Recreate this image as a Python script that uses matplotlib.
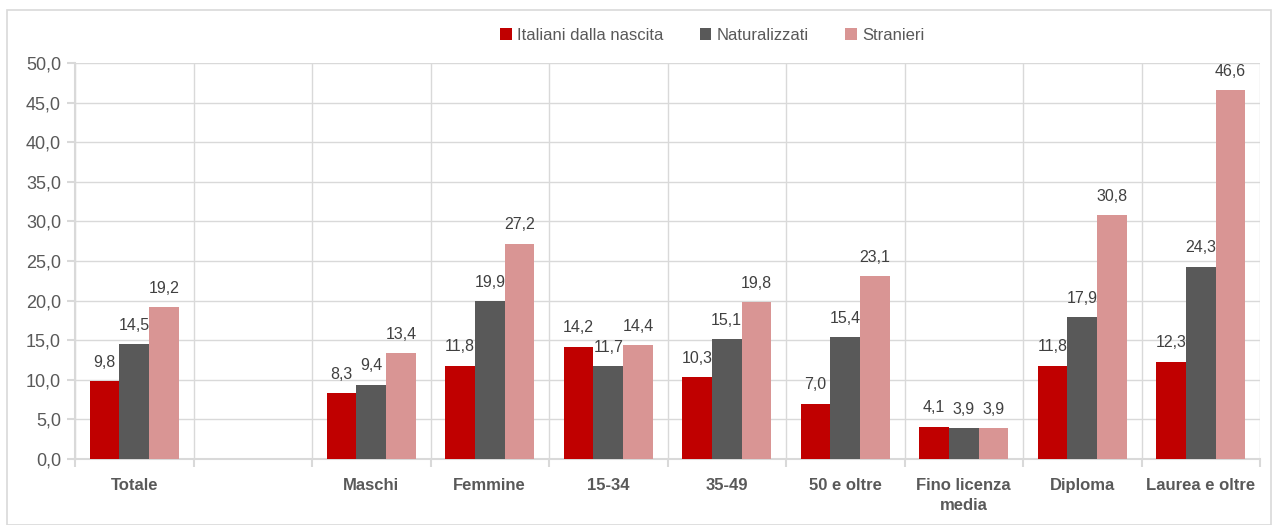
import numpy as np
import matplotlib.pyplot as plt
from matplotlib.patches import Rectangle
from matplotlib.ticker import FuncFormatter

plt.rcParams['font.family'] = ['Liberation Sans', 'DejaVu Sans']

categorie = ['Totale', '', 'Maschi', 'Femmine', '15-34', '35-49', '50 e oltre',
             'Fino licenza\nmedia', 'Diploma', 'Laurea e oltre']
italiani = [9.8, None, 8.3, 11.8, 14.2, 10.3, 7.0, 4.1, 11.8, 12.3]
naturalizzati = [14.5, None, 9.4, 19.9, 11.7, 15.1, 15.4, 3.9, 17.9, 24.3]
stranieri = [19.2, None, 13.4, 27.2, 14.4, 19.8, 23.1, 3.9, 30.8, 46.6]

serie = [('Italiani dalla nascita', italiani, '#C00000'),
         ('Naturalizzati', naturalizzati, '#595959'),
         ('Stranieri', stranieri, '#D99594')]

grigio = '#595959'
griglia = '#D9D9D9'

fig = plt.figure(figsize=(12.79, 5.25), dpi=100)
ax = fig.add_axes([75 / 1279, 1 - 459 / 525, (1260 - 75) / 1279, (459 - 63) / 525])

x = np.arange(len(categorie))
w = 0.25
for i, (nome, vals, col) in enumerate(serie):
    xs = [xi + (i - 1) * w for xi, v in zip(x, vals) if v is not None]
    vs = [v for v in vals if v is not None]
    bars = ax.bar(xs, vs, width=w, color=col, label=nome, zorder=3)
    for b, v in zip(bars, vs):
        ax.annotate(f'{v:.1f}'.replace('.', ','),
                    (b.get_x() + b.get_width() / 2, v),
                    xytext=(0, 8), textcoords='offset points',
                    ha='center', va='bottom', fontsize=11.5, color='#404040')

ax.set_xlim(-0.5, len(categorie) - 0.5)
ax.set_ylim(0, 50)
ax.set_yticks(np.arange(0, 50.1, 5))
ax.yaxis.set_major_formatter(FuncFormatter(lambda v, p: f'{v:.1f}'.replace('.', ',')))
ax.set_xticks(x)
ax.set_xticklabels(categorie, fontweight='bold', fontsize=12, color=grigio,
                   linespacing=1.35)
ax.set_xticks(np.arange(-0.5, len(categorie), 1), minor=True)
ax.tick_params(axis='x', which='major', length=0, pad=14)
ax.tick_params(axis='x', which='minor', length=6, color=griglia, width=1.5)
ax.tick_params(axis='y', length=6, color=griglia, width=1.5, labelsize=13,
               labelcolor=grigio, pad=4)

ax.grid(True, axis='y', color=griglia, lw=1, zorder=0)
ax.grid(True, axis='x', which='minor', color=griglia, lw=1, zorder=0)
for s in ['top', 'right']:
    ax.spines[s].set_visible(False)
for s in ['left', 'bottom']:
    ax.spines[s].set_color(griglia)
    ax.spines[s].set_linewidth(1.5)

leg = fig.legend(loc='center', bbox_to_anchor=(712 / 1279, 1 - 35 / 525), ncol=3,
                 frameon=False, fontsize=12, handlelength=0.7, handleheight=0.7,
                 handletextpad=0.3, columnspacing=2.2)
for t in leg.get_texts():
    t.set_color(grigio)

fig.patches.append(Rectangle((7 / 1279, 0), 1264 / 1279, 1 - 10 / 525,
                             transform=fig.transFigure, fill=False,
                             edgecolor=griglia, lw=1.2))

fig.savefig('out.png', dpi=100)
